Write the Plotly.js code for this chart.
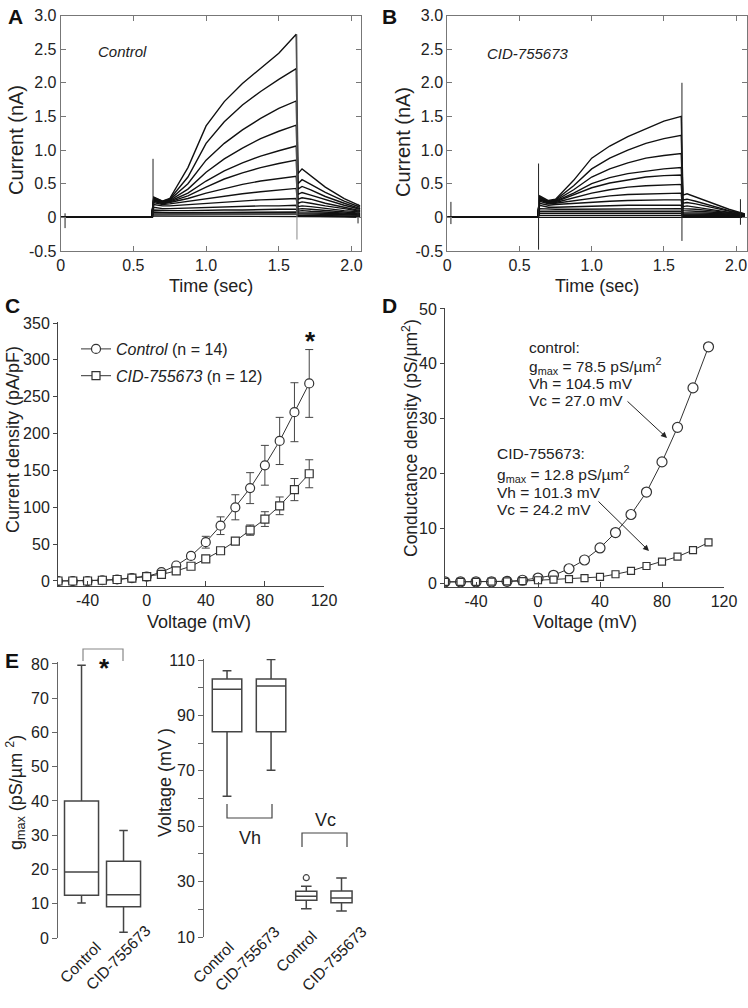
<!DOCTYPE html>
<html><head><meta charset="utf-8">
<script src="https://cdn.plot.ly/plotly-3.0.1.min.js"></script>
<style>html,body{margin:0;padding:0;background:#fff}#chart{width:748px;height:1008px}</style>
</head><body><div id="chart"></div>
<script>
// ---------- Panel A / B : current sweeps (nA) ----------
const baselineTimes = [0.0, 0.625];
const pulseTimes = [0.64, 0.7, 0.75, 0.875, 1.0, 1.125, 1.25, 1.375, 1.5, 1.62];
const tailTimes = [1.632, 1.66, 1.72, 1.82, 1.95, 2.06];

const ctrlPulse = [
  [0.30,0.24,0.28,0.74,1.36,1.72,1.99,2.22,2.44,2.72],
  [0.29,0.24,0.27,0.60,1.10,1.42,1.67,1.87,2.05,2.21],
  [0.28,0.23,0.26,0.50,0.85,1.10,1.30,1.47,1.62,1.73],
  [0.27,0.23,0.25,0.42,0.67,0.87,1.03,1.17,1.28,1.37],
  [0.26,0.22,0.24,0.36,0.54,0.69,0.81,0.91,0.99,1.06],
  [0.25,0.21,0.23,0.32,0.45,0.57,0.66,0.74,0.80,0.85],
  [0.24,0.20,0.22,0.28,0.36,0.43,0.49,0.54,0.58,0.61],
  [0.22,0.19,0.20,0.24,0.28,0.32,0.35,0.38,0.41,0.43],
  [0.19,0.17,0.17,0.19,0.21,0.23,0.24,0.26,0.27,0.28],
  [0.15,0.13,0.13,0.14,0.15,0.16,0.16,0.17,0.17,0.18],
  [0.11,0.10,0.10,0.10,0.11,0.11,0.11,0.12,0.12,0.12],
  [0.08,0.07,0.07,0.07,0.07,0.08,0.08,0.08,0.08,0.08],
  [0.05,0.05,0.05,0.05,0.05,0.05,0.05,0.05,0.05,0.05],
  [0.02,0.02,0.02,0.02,0.02,0.02,0.02,0.02,0.02,0.02]
];
const ctrlTail = [
  [0.65,0.72,0.62,0.45,0.28,0.17],
  [0.50,0.56,0.49,0.37,0.24,0.15],
  [0.42,0.46,0.41,0.31,0.21,0.13],
  [0.34,0.37,0.33,0.26,0.18,0.12],
  [0.27,0.29,0.27,0.21,0.15,0.10],
  [0.21,0.23,0.21,0.17,0.13,0.09],
  [0.16,0.17,0.16,0.13,0.10,0.08],
  [0.12,0.13,0.12,0.10,0.08,0.06],
  [0.09,0.10,0.09,0.08,0.06,0.05],
  [0.07,0.07,0.07,0.06,0.05,0.04],
  [0.05,0.05,0.05,0.04,0.04,0.03],
  [0.03,0.03,0.03,0.03,0.03,0.02],
  [0.02,0.02,0.02,0.02,0.02,0.01],
  [0.01,0.01,0.01,0.01,0.01,0.00]
];
const cidPulse = [
  [0.32,0.25,0.27,0.55,0.88,1.06,1.20,1.32,1.43,1.50],
  [0.30,0.24,0.26,0.47,0.72,0.88,1.00,1.10,1.17,1.22],
  [0.29,0.23,0.25,0.41,0.60,0.72,0.81,0.88,0.92,0.95],
  [0.28,0.23,0.24,0.36,0.50,0.59,0.65,0.69,0.72,0.74],
  [0.27,0.22,0.23,0.33,0.44,0.51,0.56,0.60,0.62,0.63],
  [0.26,0.21,0.22,0.29,0.36,0.41,0.45,0.47,0.48,0.49],
  [0.24,0.20,0.21,0.25,0.29,0.32,0.34,0.35,0.36,0.36],
  [0.21,0.18,0.19,0.21,0.23,0.24,0.25,0.26,0.26,0.26],
  [0.18,0.15,0.15,0.16,0.17,0.17,0.18,0.18,0.18,0.18],
  [0.13,0.12,0.12,0.12,0.12,0.13,0.13,0.13,0.13,0.13],
  [0.09,0.09,0.09,0.09,0.09,0.09,0.09,0.09,0.09,0.09],
  [0.06,0.06,0.06,0.06,0.06,0.06,0.06,0.06,0.06,0.06],
  [0.03,0.03,0.03,0.03,0.03,0.03,0.03,0.03,0.03,0.03],
  [0.01,0.01,0.01,0.01,0.01,0.01,0.01,0.01,0.01,0.01]
];
const cidTail = [
  [0.33,0.35,0.30,0.22,0.12,0.05],
  [0.26,0.27,0.24,0.18,0.10,0.05],
  [0.21,0.22,0.20,0.15,0.09,0.04],
  [0.16,0.17,0.15,0.12,0.08,0.04],
  [0.13,0.13,0.12,0.10,0.07,0.03],
  [0.10,0.10,0.09,0.08,0.06,0.03],
  [0.07,0.07,0.07,0.06,0.05,0.03],
  [0.05,0.05,0.05,0.04,0.04,0.02],
  [0.04,0.04,0.04,0.03,0.03,0.02],
  [0.03,0.03,0.03,0.03,0.02,0.02],
  [0.02,0.02,0.02,0.02,0.02,0.01],
  [0.01,0.01,0.01,0.01,0.01,0.01],
  [0.01,0.01,0.01,0.01,0.01,0.00],
  [0.00,0.00,0.00,0.00,0.00,0.00]
];
// capacitive artefacts: time, low, high (nA)
const ctrlArtT  = [0.03, 0.635, 1.625, 2.045];
const ctrlArtLo = [-0.16, 0.0, -0.33, -0.09];
const ctrlArtHi = [0.06, 0.87, 2.72, 0.20];
const cidArtT  = [0.025, 0.632, 1.625, 2.03];
const cidArtLo = [-0.10, -0.48, -0.35, -0.11];
const cidArtHi = [0.23, 0.80, 2.00, 0.27];

const timeTicks = [0, 0.5, 1.0, 1.5, 2.0];
const timeTickText = ['0','0.5','1.0','1.5','2.0'];
const currTicks = [-0.5,0,0.5,1.0,1.5,2.0,2.5,3.0];
const currTickText = ['-0.5','0','0.5','1.0','1.5','2.0','2.5','3.0'];

// ---------- Panel C : current density (pA/pF) ----------
const voltage = [-60,-50,-40,-30,-20,-10,0,10,20,30,40,50,60,70,80,90,100,110];
const ctrlDensity    = [0,0,0,1,2,4,6,12,21,34,52.6,75,100,126,157,190,229,268];
const ctrlDensityErr = [0.5,0.5,0.5,1,1.5,2,2.5,2,3,4,8,12,17,21,27,32,40,46];
const cidDensity     = [0,0,0,1,2,4,6,9,13.6,20,30,41,54,69,84,102,124,145.5];
const cidDensityErr  = [0.5,0.5,0.5,1,1.5,2,2,2,2,2.5,3,4,3,7,10,12,15,19];
const voltTicks = [-40,0,40,80,120];
const voltTickText = ['-40','0','40','80','120'];

// ---------- Panel D : conductance density (pS/um2) ----------
const ctrlCond = [0.2,0.2,0.2,0.2,0.3,0.5,0.9,1.4,2.6,4.2,6.4,9.2,12.5,16.6,22.1,28.4,35.6,43.1];
const cidCond  = [0.2,0.2,0.2,0.25,0.3,0.35,0.5,0.6,0.7,0.9,1.1,1.6,2.2,3.1,3.9,4.8,6.0,7.4];

// ---------- Panel E : box plots ----------
const groups = ['Control','CID-755673'];
const gmaxQ1=[12.5,9.1], gmaxMed=[19.3,12.6], gmaxQ3=[40.0,22.4], gmaxLo=[10.2,1.7], gmaxHi=[79.6,31.4];
const vhQ1=[84.1,84.1], vhMed=[99.4,100.6], vhQ3=[103.1,103.1], vhLo=[60.8,70.2], vhHi=[106.1,110.2];
const vcQ1=[23.3,22.4], vcMed=[24.7,24.1], vcQ3=[26.5,26.6], vcLo=[20.2,19.4], vcHi=[28.3,31.3];
const vcCtrlOutlier=[31.4];
const voltETicks=[10,30,50,70,90,110];

// ---------- layout helpers ----------
const W=748, H=1008;
const FONT='Liberation Sans, Arial, Helvetica, sans-serif';
const TXT='#222';
const px=x=>x/W, py=y=>(H-y)/H;
const posVh=[0,1], posVc=[1.8,2.6], posG=[0,1];

const traces=[];
function sweeps(pulse, tail, xa, ya){
  pulse.forEach((p,i)=>{
    traces.push({type:'scatter',mode:'lines',xaxis:xa,yaxis:ya,showlegend:false,hoverinfo:'skip',
      x: baselineTimes.concat(pulseTimes, tailTimes),
      y: [0,0].concat(p, tail[i]),
      line:{color:'#111',width:1.4}});
  });
}
function artefacts(T,Lo,Hi,xa,ya){
  T.forEach((t,i)=>{
    traces.push({type:'scatter',mode:'lines',xaxis:xa,yaxis:ya,showlegend:false,hoverinfo:'skip',
      x:[t,t], y:[Lo[i],Hi[i]], line:{color: i===2 && xa==='x' ? '#888':'#222', width:1}});
  });
}
sweeps(ctrlPulse, ctrlTail, 'x','y');
artefacts(ctrlArtT, ctrlArtLo, ctrlArtHi, 'x','y');
sweeps(cidPulse, cidTail, 'x2','y2');
artefacts(cidArtT, cidArtLo, cidArtHi, 'x2','y2');

// C
traces.push({type:'scatter',mode:'lines+markers',xaxis:'x3',yaxis:'y3',x:voltage,y:ctrlDensity,
  name:'<i>Control</i> (n = 14)',legendgroup:'a',
  error_y:{type:'data',array:ctrlDensityErr,color:'#444',thickness:1,width:4},
  line:{color:'#333',width:1},marker:{symbol:'circle',size:9,color:'#fff',line:{color:'#333',width:1.2}}});
traces.push({type:'scatter',mode:'lines+markers',xaxis:'x3',yaxis:'y3',x:voltage,y:cidDensity,
  name:'<i>CID-755673</i> (n = 12)',legendgroup:'b',
  error_y:{type:'data',array:cidDensityErr,color:'#444',thickness:1,width:4},
  line:{color:'#333',width:1},marker:{symbol:'square',size:8,color:'#fff',line:{color:'#333',width:1.2}}});
// D
traces.push({type:'scatter',mode:'lines+markers',xaxis:'x4',yaxis:'y4',x:voltage,y:ctrlCond,showlegend:false,
  line:{color:'#333',width:1},marker:{symbol:'circle',size:10,color:'#fff',line:{color:'#333',width:1.2}}});
traces.push({type:'scatter',mode:'lines+markers',xaxis:'x4',yaxis:'y4',x:voltage,y:cidCond,showlegend:false,
  line:{color:'#333',width:1},marker:{symbol:'square',size:7,color:'#fff',line:{color:'#333',width:1.2}}});
// E boxes
const boxStyle={type:'box',showlegend:false,boxpoints:false,fillcolor:'#fff',line:{color:'#444',width:1.5},hoverinfo:'skip'};
traces.push(Object.assign({},boxStyle,{xaxis:'x5',yaxis:'y5',x:posG,q1:gmaxQ1,median:gmaxMed,q3:gmaxQ3,lowerfence:gmaxLo,upperfence:gmaxHi,width:0.81,whiskerwidth:0.25}));
traces.push(Object.assign({},boxStyle,{xaxis:'x6',yaxis:'y6',x:posVh,q1:vhQ1,median:vhMed,q3:vhQ3,lowerfence:vhLo,upperfence:vhHi,width:0.67,whiskerwidth:0.3}));
traces.push(Object.assign({},boxStyle,{xaxis:'x6',yaxis:'y6',x:posVc,q1:vcQ1,median:vcMed,q3:vcQ3,lowerfence:vcLo,upperfence:vcHi,width:0.48,whiskerwidth:0.5}));
traces.push({type:'scatter',mode:'markers',xaxis:'x6',yaxis:'y6',x:[posVc[0]],y:vcCtrlOutlier,showlegend:false,
  marker:{symbol:'circle-open',size:6,color:'#444',line:{width:1.2}}});

const tickFont={family:FONT,size:16,color:TXT};
const frameAxis={showline:true,mirror:'ticks',ticks:'inside',ticklen:5,linecolor:'#777',tickcolor:'#777',linewidth:1,
  showgrid:false,zeroline:false,tickfont:tickFont,ticklabeloverflow:'allow'};
const openAxisX={showline:true,ticks:'inside',ticklen:5,linecolor:'#444',tickcolor:'#444',linewidth:1,showgrid:false,zeroline:false,tickfont:tickFont,ticklabeloverflow:'allow'};
const openAxisY={showline:true,ticks:'outside',ticklen:4,linecolor:'#444',tickcolor:'#444',linewidth:1,showgrid:false,zeroline:false,tickfont:tickFont,ticklabeloverflow:'allow'};
const hiddenX={showline:false,ticks:'',showticklabels:false,showgrid:false,zeroline:false};

function ann(text,x,y,o){
  return Object.assign({text:text,xref:'paper',yref:'paper',x:px(x),y:py(y),showarrow:false,
    xanchor:'center',yanchor:'middle',font:{family:FONT,size:16,color:TXT}},o||{});
}
const titleF={family:FONT,size:18,color:TXT};
const letterF={family:FONT,size:21,color:'#111',weight:'bold'};
const paramF={family:FONT,size:15.5,color:TXT};
const annots=[
  ann('<b>A</b>',15,16,{font:letterF}), ann('<b>B</b>',389,16,{font:letterF}),
  ann('<b>C</b>',12,305,{font:letterF}), ann('<b>D</b>',389,305,{font:letterF}),
  ann('<b>E</b>',12,660,{font:letterF}),
  ann('<i>Control</i>',122,51,{font:{family:FONT,size:15,color:TXT}}),
  ann('<i>CID-755673</i>',528,53,{font:{family:FONT,size:15,color:TXT}}),
  ann('Time (sec)',211,286,{font:titleF}), ann('Time (sec)',597,286,{font:titleF}),
  ann('Current (nA)',16,140,{font:{family:FONT,size:20,color:TXT},textangle:-90}),
  ann('Current (nA)',403,142,{font:{family:FONT,size:20,color:TXT},textangle:-90}),
  ann('Current density (pA/pF)',13,440,{font:titleF,textangle:-90}),
  ann('Voltage (mV)',199,622,{font:titleF}), ann('Voltage (mV)',585,622,{font:titleF}),
  ann('Conductance density (pS/µm<sup>2</sup>)',410,438,{font:{family:FONT,size:17.5,color:TXT},textangle:-90}),
  ann('g<sub>max</sub> (pS/µm <sup>2</sup>)',15,793,{font:titleF,textangle:-90}),
  ann('Voltage (mV )',165,783,{font:titleF,textangle:-90}),
  ann('<b>*</b>',310,341,{font:{family:FONT,size:26,color:'#111'}}),
  ann('<b>*</b>',104,668,{font:{family:FONT,size:26,color:'#111'}}),
  // D fit parameters
  ann('control:',527,347,{xanchor:'left',font:paramF}),
  ann('g<sub>max</sub> = 78.5 pS/µm<sup>2</sup>',527,366,{xanchor:'left',font:paramF}),
  ann('Vh = 104.5 mV',527,383,{xanchor:'left',font:paramF}),
  ann('Vc = 27.0 mV',527,400,{xanchor:'left',font:paramF}),
  ann('CID-755673:',495,454,{xanchor:'left',font:paramF}),
  ann('g<sub>max</sub> = 12.8 pS/µm<sup>2</sup>',495,474,{xanchor:'left',font:paramF}),
  ann('Vh = 101.3 mV',495,492,{xanchor:'left',font:paramF}),
  ann('Vc = 24.2 mV',495,509,{xanchor:'left',font:paramF}),
  {text:'',xref:'paper',yref:'paper',x:px(667),y:py(438),ax:-41,ay:-38,showarrow:true,arrowhead:2,arrowsize:1.2,arrowwidth:1,arrowcolor:'#222'},
  {text:'',xref:'paper',yref:'paper',x:px(649),y:py(551),ax:-52,ay:-51,showarrow:true,arrowhead:2,arrowsize:1.2,arrowwidth:1,arrowcolor:'#222'},
  ann('Vh',250,838,{font:{family:FONT,size:18,color:TXT}}),
  ann('Vc',325,820,{font:{family:FONT,size:18,color:TXT}})
];
// rotated category labels in E
const catF={family:FONT,size:15.5,color:TXT};
[[80,962],[118,957]].forEach((c,i)=>annots.push(ann(groups[i],c[0],c[1],{font:catF,textangle:-45})));
[[213,962],[247,958],[296,951],[334,958]].forEach((c,i)=>annots.push(ann(groups[i%2],c[0],c[1],{font:catF,textangle:-45})));

function bracket(pts,color){
  return {type:'path',xref:'paper',yref:'paper',line:{color:color,width:1.2},
    path:pts.map((p,i)=>(i?'L':'M')+px(p[0])+','+py(p[1])).join(' ')};
}
const shapes=[
  bracket([[83,661],[83,649],[123,649],[123,661]],'#888'),
  bracket([[227,804],[227,818],[272,818],[272,804]],'#444'),
  bracket([[302,847],[302,833],[347,833],[347,847]],'#444')
];

const layout={
  width:W,height:H,autosize:false,margin:{l:0,r:0,t:0,b:0,pad:0},
  paper_bgcolor:'#fff',plot_bgcolor:'rgba(0,0,0,0)',font:{family:FONT,color:TXT},
  boxmode:'overlay',
  xaxis:Object.assign({},frameAxis,{domain:[px(60.7),px(360.5)],range:[0,2.062],tickvals:timeTicks,ticktext:timeTickText,anchor:'y'}),
  yaxis:Object.assign({},frameAxis,{domain:[py(251),py(15.5)],range:[-0.5,3.0],tickvals:currTicks,ticktext:currTickText,anchor:'x'}),
  xaxis2:Object.assign({},frameAxis,{domain:[px(447.3),px(746.5)],range:[0,2.072],tickvals:timeTicks,ticktext:timeTickText,anchor:'y2'}),
  yaxis2:Object.assign({},frameAxis,{domain:[py(251),py(15.5)],range:[-0.5,3.0],tickvals:currTicks,ticktext:currTickText,anchor:'x2'}),
  xaxis3:Object.assign({},openAxisX,{domain:[px(58),px(324)],range:[-60,120],tickvals:voltTicks,ticktext:voltTickText,anchor:'y3'}),
  yaxis3:Object.assign({},openAxisY,{domain:[py(586),py(322)],range:[-6.8,351.4],tickvals:[0,50,100,150,200,250,300,350],anchor:'x3'}),
  xaxis4:Object.assign({},openAxisX,{domain:[px(445),px(724)],range:[-60,120],tickvals:voltTicks,ticktext:voltTickText,anchor:'y4'}),
  yaxis4:Object.assign({},openAxisY,{domain:[py(587),py(308)],range:[-0.73,50.18],tickvals:[0,10,20,30,40,50],anchor:'x4'}),
  xaxis5:Object.assign({},hiddenX,{domain:[px(58),px(150)],range:[-0.56,1.63],anchor:'y5'}),
  yaxis5:Object.assign({},openAxisY,{domain:[py(938),py(662)],range:[0,80.58],tickvals:[0,10,20,30,40,50,60,70,80],ticklen:5,linecolor:'#666',tickcolor:'#666',anchor:'x5'}),
  xaxis6:Object.assign({},hiddenX,{domain:[px(204),px(360)],range:[-0.523,3.02],anchor:'y6'}),
  yaxis6:Object.assign({},openAxisY,{domain:[py(937),py(659)],range:[10,110.36],tickvals:voltETicks,ticklen:5,linecolor:'#666',tickcolor:'#666',anchor:'x6',
    minor:{tick0:10,dtick:10,ticks:'outside',ticklen:5,tickcolor:'#666',showgrid:false}}),
  legend:{x:px(76),y:py(332),xanchor:'left',yanchor:'top',font:{family:FONT,size:16,color:TXT},
    bgcolor:'rgba(0,0,0,0)',itemwidth:30,traceorder:'grouped',tracegroupgap:3},
  showlegend:true,
  annotations:annots,
  shapes:shapes
};
Plotly.newPlot('chart',traces,layout,{staticPlot:true,displayModeBar:false});
</script></body></html>
